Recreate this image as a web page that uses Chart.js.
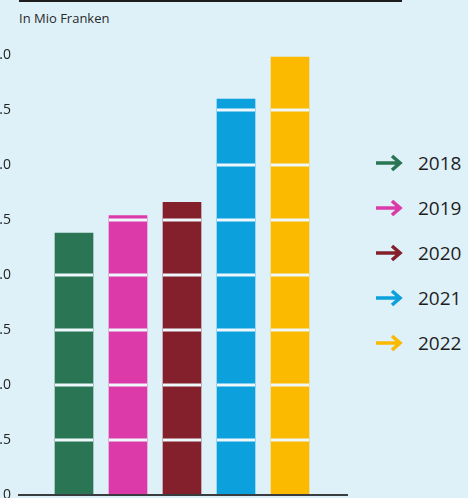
<!DOCTYPE html>
<html>
<head>
<meta charset="utf-8">
<script src="https://cdn.jsdelivr.net/npm/chart.js@4"></script>
<style>
  html, body { margin: 0; padding: 0; }
  body {
    width: 468px; height: 498px; overflow: hidden; position: relative;
    background: #def1f9;
    font-family: 'Open Sans', sans-serif;
  }
  .top-rule { position: absolute; left: 19px; top: 0; width: 383px; height: 2px; background: #1d1d1d; }
  .unit { position: absolute; left: 19px; top: 9px; font-size: 13px; color: #2a2a2a; }
  #chart { position: absolute; left: -20px; top: 0; }
  .legend { position: absolute; left: 375px; top: 0; }
  .legend-item { position: absolute; left: 0; height: 24px; display: flex; align-items: center; white-space: nowrap; }
  .legend-item svg { width: 28px; height: 18px; }
  .legend-item span { margin-left: 15px; font-size: 19px; color: #1e1e1e; }
</style>
</head>
<body>
<div class="top-rule"></div>
<div class="unit">In Mio Franken</div>
<canvas id="chart" width="380" height="540"></canvas>
<div class="legend" id="legend"></div>

<script>
  // Data (million francs)
  const years = ['2018', '2019', '2020', '2021', '2022'];
  const amounts = [2.38, 2.54, 2.66, 3.60, 3.98];
  const yearColors = ['#2a7553', '#dc3aa8', '#84202b', '#0ca0dc', '#fbb900'];
  const yTicks = [0, 0.5, 1, 1.5, 2, 2.5, 3, 3.5, 4];

  (function () {
    'use strict';

    // White grid lines only show on the bars, so cut them into each bar
    const barGridPlugin = {
      id: 'barGrid',
      afterDatasetsDraw: function (chart) {
        const ctx = chart.ctx;
        const yScale = chart.scales.y;
        const bars = chart.getDatasetMeta(0).data;
        ctx.save();
        ctx.strokeStyle = '#eef8fc';
        ctx.lineWidth = 3;
        bars.forEach(function (bar) {
          const half = bar.width / 2;
          yTicks.forEach(function (v) {
            if (v === 0) return;
            const y = yScale.getPixelForValue(v);
            if (y < bar.y) return;
            ctx.beginPath();
            ctx.moveTo(bar.x - half, y);
            ctx.lineTo(bar.x + half, y);
            ctx.stroke();
          });
        });
        ctx.restore();
      },
    };

    // Baseline drawn at y = 0, reaching a bit past the bars on both sides
    const baselinePlugin = {
      id: 'baseline',
      afterDraw: function (chart) {
        const ctx = chart.ctx;
        const y = chart.scales.y.getPixelForValue(0);
        const area = chart.chartArea;
        ctx.save();
        ctx.strokeStyle = '#3a3d40';
        ctx.lineWidth = 2;
        ctx.beginPath();
        ctx.moveTo(area.left - 29, y);
        ctx.lineTo(area.right + 31, y);
        ctx.stroke();
        ctx.restore();
      },
    };

    // Canvas runs past the bottom of the page so the 0 label is cut like the original
    new Chart(document.getElementById('chart'), {
      type: 'bar',
      data: {
        labels: years,
        datasets: [
          {
            data: amounts,
            backgroundColor: yearColors,
            borderWidth: 0,
            barThickness: 38,
          },
        ],
      },
      options: {
        responsive: false,
        animation: false,
        layout: { padding: { top: 55, bottom: 45, right: 43, left: 0 } },
        plugins: {
          legend: { display: false },
          tooltip: { enabled: false },
        },
        scales: {
          x: { display: false },
          y: {
            min: 0,
            max: 4,
            afterFit: function (scale) {
              scale.width = 67;
            },
            afterBuildTicks: function (scale) {
              scale.ticks = yTicks.map(function (v) {
                return { value: v };
              });
            },
            border: { display: false },
            grid: { display: false, drawTicks: false },
            ticks: {
              autoSkip: false,
              padding: 36,
              color: '#222',
              font: { family: 'Open Sans', size: 14 },
              callback: function (v) {
                return v === 0 ? '0' : v.toFixed(1);
              },
            },
          },
        },
      },
      plugins: [barGridPlugin, baselinePlugin],
    });

    // Legend with coloured arrows
    const legend = document.getElementById('legend');
    years.forEach(function (year, i) {
      const item = document.createElement('div');
      item.className = 'legend-item';
      item.style.top = (151 + i * 45) + 'px';
      const c = yearColors[i];
      item.innerHTML =
        '<svg viewBox="0 0 28 18"><path d="M1 9 H25 M17 2 L25 9 L17 16" fill="none" stroke="' + c +
        '" stroke-width="3.6" stroke-linecap="butt" stroke-linejoin="miter"/></svg>' +
        '<span>' + year + '</span>';
      legend.appendChild(item);
    });
  })();
</script>
</body>
</html>
